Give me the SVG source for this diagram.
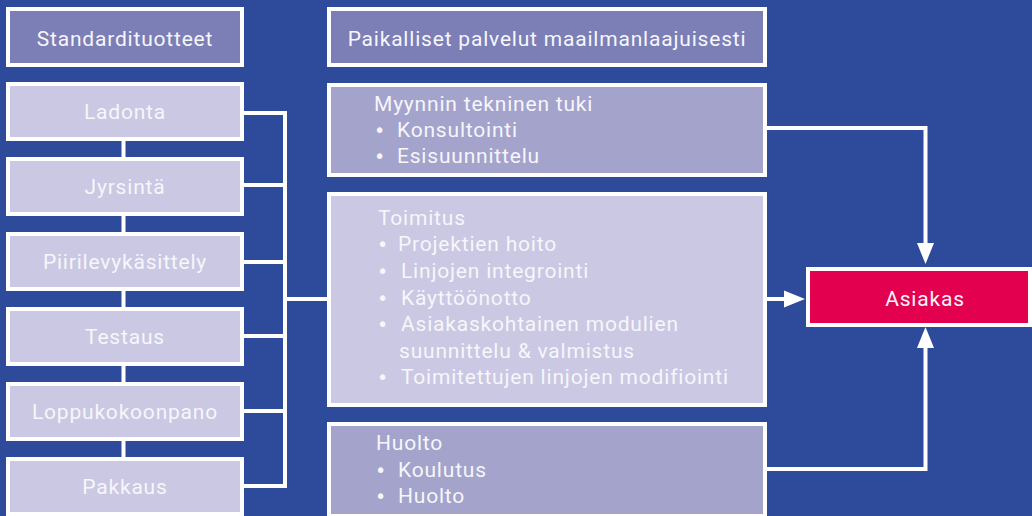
<svg xmlns="http://www.w3.org/2000/svg" width="1032" height="516" viewBox="0 0 1032 516">
<style>
.bg{fill:#2E4A9B}
.box{stroke:#FFFFFF;stroke-width:4}
.dark{fill:#7C7EB6}
.mid{fill:#A3A3CC}
.light{fill:#CAC8E3}
.red{fill:#E2004F}
text{font-family:Roboto,"Open Sans",sans-serif;font-size:21px;letter-spacing:0.8px;fill:#F6F6FB}
.b{font-family:"DejaVu Sans",sans-serif;font-size:19px;letter-spacing:0}
.c{text-anchor:middle}
.conn{fill:none;stroke:#FFFFFF;stroke-width:4}
</style>
<defs>
<marker id="arr" markerUnits="userSpaceOnUse" markerWidth="22" markerHeight="18" refX="0" refY="8.5" orient="auto" viewBox="0 0 22 17">
<path d="M0,0 L21,8.5 L0,17 z" fill="#FFFFFF"/>
</marker>
</defs>
<rect class="bg" x="0" y="0" width="1032" height="516"/>
<g id="connectors">
<path class="conn" d="M123.5,141 V459"/>
<path class="conn" d="M244,113 H285 M244,185 H285 M244,262 H285 M244,336 H285 M244,411 H285 M244,486 H285 M285,111 V488 M285,299 H327"/>
<path class="conn" d="M767,128 H925.5 V243" marker-end="url(#arr)"/>
<path class="conn" d="M767,299 H784" marker-end="url(#arr)"/>
<path class="conn" d="M767,469 H925.5 V348" marker-end="url(#arr)"/>
</g>
<g id="standardituotteet"><rect class="box dark" x="8" y="9" width="234" height="56"/><text class="c" x="125" y="46">Standardituotteet</text></g>
<g id="ladonta"><rect class="box light" x="8" y="84" width="234" height="55"/><text class="c" x="125" y="119">Ladonta</text></g>
<g id="jyrsinta"><rect class="box light" x="8" y="159" width="234" height="55"/><text class="c" x="125" y="194">Jyrsintä</text></g>
<g id="piirilevykasittely"><rect class="box light" x="8" y="234" width="234" height="55"/><text class="c" x="125" y="269">Piirilevykäsittely</text></g>
<g id="testaus"><rect class="box light" x="8" y="309" width="234" height="55"/><text class="c" x="125" y="344">Testaus</text></g>
<g id="loppukokoonpano"><rect class="box light" x="8" y="384" width="234" height="55"/><text class="c" x="125" y="419">Loppukokoonpano</text></g>
<g id="pakkaus"><rect class="box light" x="8" y="459" width="234" height="55"/><text class="c" x="125" y="494">Pakkaus</text></g>
<g id="paikalliset"><rect class="box dark" x="329" y="9" width="436" height="56"/><text class="c" x="547" y="46">Paikalliset palvelut maailmanlaajuisesti</text></g>
<g id="myynnin-tuki"><rect class="box mid" x="329" y="85" width="436" height="90"/>
<text x="374" y="111">Myynnin tekninen tuki</text>
<text x="374" y="137"><tspan class="b">•</tspan><tspan x="397">Konsultointi</tspan></text>
<text x="374" y="163"><tspan class="b">•</tspan><tspan x="397">Esisuunnittelu</tspan></text></g>
<g id="toimitus"><rect class="box light" x="329" y="194" width="436" height="211"/>
<text x="378" y="225">Toimitus</text>
<text x="377" y="251"><tspan class="b">•</tspan><tspan x="398">Projektien hoito</tspan></text>
<text x="377" y="278"><tspan class="b">•</tspan><tspan x="401">Linjojen integrointi</tspan></text>
<text x="377" y="305"><tspan class="b">•</tspan><tspan x="401">Käyttöönotto</tspan></text>
<text x="377" y="331"><tspan class="b">•</tspan><tspan x="401">Asiakaskohtainen modulien</tspan></text>
<text x="399" y="358">suunnittelu &amp; valmistus</text>
<text x="377" y="384"><tspan class="b">•</tspan><tspan x="401">Toimitettujen linjojen modifiointi</tspan></text></g>
<g id="huolto"><rect class="box mid" x="329" y="424" width="436" height="92"/>
<text x="376" y="450">Huolto</text>
<text x="375" y="477"><tspan class="b">•</tspan><tspan x="398">Koulutus</tspan></text>
<text x="375" y="503"><tspan class="b">•</tspan><tspan x="398">Huolto</tspan></text></g>
<g id="asiakas"><rect class="box red" x="808" y="269" width="222" height="56"/><text class="c" x="925" y="306">Asiakas</text></g>
</svg>
